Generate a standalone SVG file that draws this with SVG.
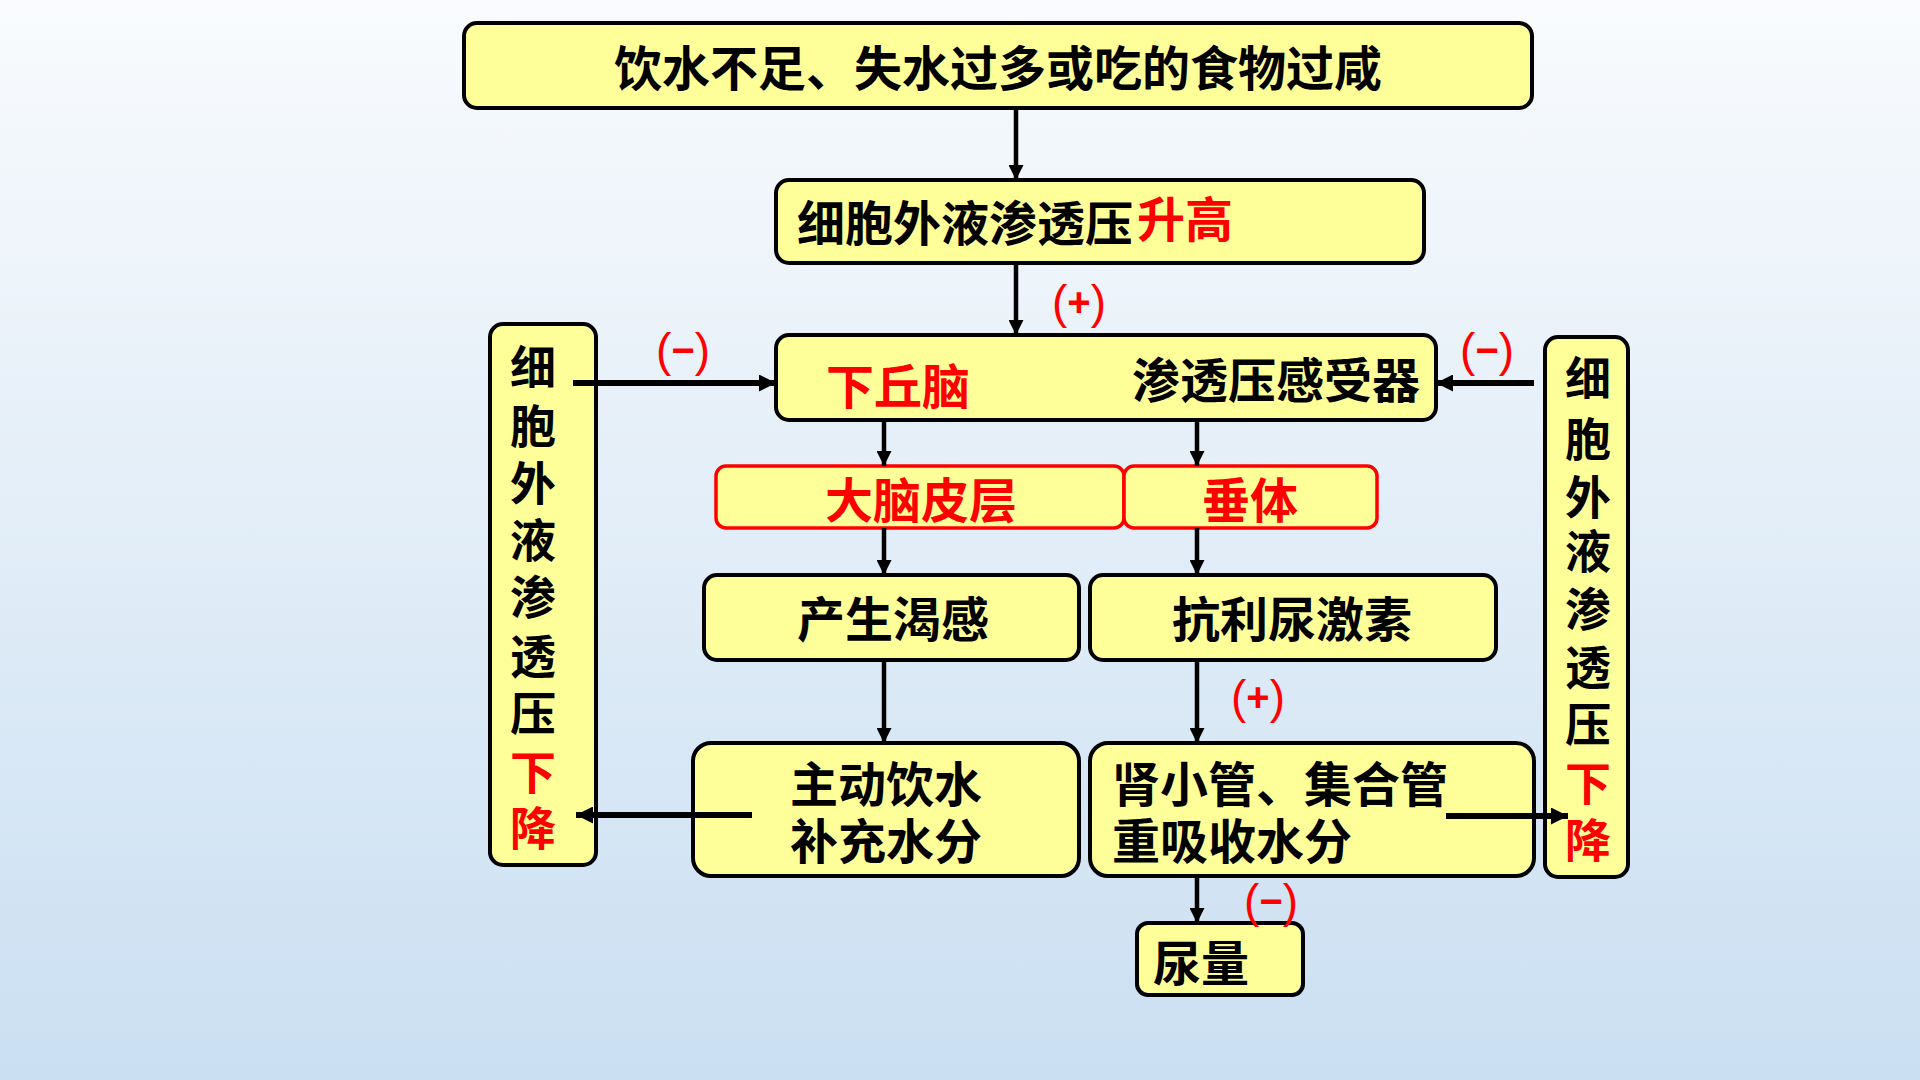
<svg xmlns="http://www.w3.org/2000/svg" width="1920" height="1080" viewBox="0 0 1920 1080">
<defs>
<linearGradient id="bg" x1="0" y1="0" x2="0" y2="1">
<stop offset="0" stop-color="#f9fbfd"/>
<stop offset="1" stop-color="#cadff2"/>
</linearGradient>
<marker id="ah" viewBox="0 0 10 10" refX="10" refY="5" markerWidth="17" markerHeight="17" markerUnits="userSpaceOnUse" orient="auto">
<path d="M0,0 L10,5 L0,10 z" fill="#000"/>
</marker>
<marker id="av" viewBox="0 0 10 10" refX="10" refY="5" markerWidth="19" markerHeight="15" markerUnits="userSpaceOnUse" orient="auto">
<path d="M0,0 L10,5 L0,10 z" fill="#000"/>
</marker>
</defs>
<style>
.box{fill:#ffff99;stroke:#000;stroke-width:4}
.rbox{fill:#ffff99;stroke:#ff0000;stroke-width:3.5}
.t{font-family:"Noto Sans CJK SC","Noto Sans",sans-serif;font-weight:700;font-size:48px;fill:#000;dominant-baseline:central}
.v{font-size:46px;text-anchor:middle}
.red{fill:#ff0000}
.sign{font-family:"Liberation Sans","DejaVu Sans",sans-serif;font-size:46px;fill:#ff0000;text-anchor:middle;dominant-baseline:central}
.sg{font-weight:700;font-size:40px}
.cv{fill:none;stroke:#000;stroke-width:4.5;marker-end:url(#av)}
.ch{fill:none;stroke:#000;stroke-width:6;marker-end:url(#ah)}
</style>
<rect width="1920" height="1080" fill="url(#bg)"/>

<g id="n-cause">
<rect class="box" x="464" y="23" width="1068" height="85" rx="13"/>
<text class="t" x="998" y="65" text-anchor="middle">饮水不足、失水过多或吃的食物过咸</text>
</g>

<g id="n-rise">
<rect class="box" x="776" y="180" width="648" height="83" rx="13"/>
<text class="t" x="797" y="220">细胞外液渗透压<tspan class="red" x="1137" y="216">升高</tspan></text>
</g>

<g id="n-hypo">
<rect class="box" x="776" y="335" width="660" height="85" rx="13"/>
<text class="t red" x="826" y="383">下丘脑</text>
<text class="t" x="1132" y="377">渗透压感受器</text>
</g>

<g id="n-left">
<rect class="box" x="490" y="324" width="106" height="541" rx="13"/>
<text class="t v" x="533">
<tspan x="533" y="364">细</tspan><tspan x="533" y="423">胞</tspan><tspan x="533" y="480">外</tspan><tspan x="533" y="537">液</tspan><tspan x="533" y="594">渗</tspan><tspan x="533" y="653">透</tspan><tspan x="533" y="710">压</tspan><tspan class="red" x="533" y="769">下</tspan><tspan class="red" x="533" y="825">降</tspan>
</text>
</g>

<g id="n-right">
<rect class="box" x="1545" y="337" width="83" height="540" rx="13"/>
<text class="t v" x="1588">
<tspan x="1588" y="375">细</tspan><tspan x="1588" y="436">胞</tspan><tspan x="1588" y="494">外</tspan><tspan x="1588" y="548">液</tspan><tspan x="1588" y="606">渗</tspan><tspan x="1588" y="664">透</tspan><tspan x="1588" y="721">压</tspan><tspan class="red" x="1588" y="780">下</tspan><tspan class="red" x="1588" y="837">降</tspan>
</text>
</g>

<g id="n-cortex">
<rect class="rbox" x="716" y="466" width="408" height="62" rx="10"/>
<text class="t red" x="921" y="497" text-anchor="middle">大脑皮层</text>
</g>

<g id="n-pituitary">
<rect class="rbox" x="1124" y="466" width="253" height="62" rx="10"/>
<text class="t red" x="1250" y="497" text-anchor="middle">垂体</text>
</g>

<g id="n-thirst">
<rect class="box" x="704" y="575" width="375" height="85" rx="13"/>
<text class="t" x="893" y="616" text-anchor="middle">产生渴感</text>
</g>

<g id="n-adh">
<rect class="box" x="1090" y="575" width="406" height="85" rx="13"/>
<text class="t" x="1292" y="616" text-anchor="middle">抗利尿激素</text>
</g>

<g id="n-drink">
<rect class="box" x="693" y="743" width="386" height="133" rx="18"/>
<text class="t" x="886" y="781" text-anchor="middle">主动饮水</text>
<text class="t" x="886" y="838" text-anchor="middle">补充水分</text>
</g>

<g id="n-kidney">
<rect class="box" x="1090" y="743" width="444" height="133" rx="18"/>
<text class="t" x="1112" y="781">肾小管、集合管</text>
<text class="t" x="1112" y="838">重吸收水分</text>
</g>

<g id="n-urine">
<rect class="box" x="1137" y="923" width="166" height="72" rx="11"/>
<text class="t" x="1153" y="960">尿量</text>
</g>

<g id="signs">
<text class="sign" x="1079" y="302">(<tspan class="sg">+</tspan>)</text>
<text class="sign" x="683" y="350">(<tspan class="sg">−</tspan>)</text>
<text class="sign" x="1487" y="350">(<tspan class="sg">−</tspan>)</text>
<text class="sign" x="1258" y="697">(<tspan class="sg">+</tspan>)</text>
<text class="sign" x="1271" y="901">(<tspan class="sg">−</tspan>)</text>
</g>

<g id="connectors">
<line class="cv" x1="1016" y1="108" x2="1016" y2="180"/>
<line class="cv" x1="1016" y1="263" x2="1016" y2="335"/>
<line class="ch" x1="573" y1="383" x2="776" y2="383"/>
<line class="ch" x1="1534" y1="383" x2="1436" y2="383"/>
<line class="cv" x1="884" y1="420" x2="884" y2="466"/>
<line class="cv" x1="1197" y1="420" x2="1197" y2="466"/>
<line class="cv" x1="884" y1="528" x2="884" y2="575"/>
<line class="cv" x1="1197" y1="528" x2="1197" y2="575"/>
<line class="cv" x1="884" y1="660" x2="884" y2="743"/>
<line class="cv" x1="1197" y1="660" x2="1197" y2="743"/>
<line class="cv" x1="1197" y1="876" x2="1197" y2="923"/>
<line class="ch" x1="752" y1="815" x2="576" y2="815"/>
<line class="ch" x1="1446" y1="816" x2="1568" y2="816"/>
</g>
</svg>
